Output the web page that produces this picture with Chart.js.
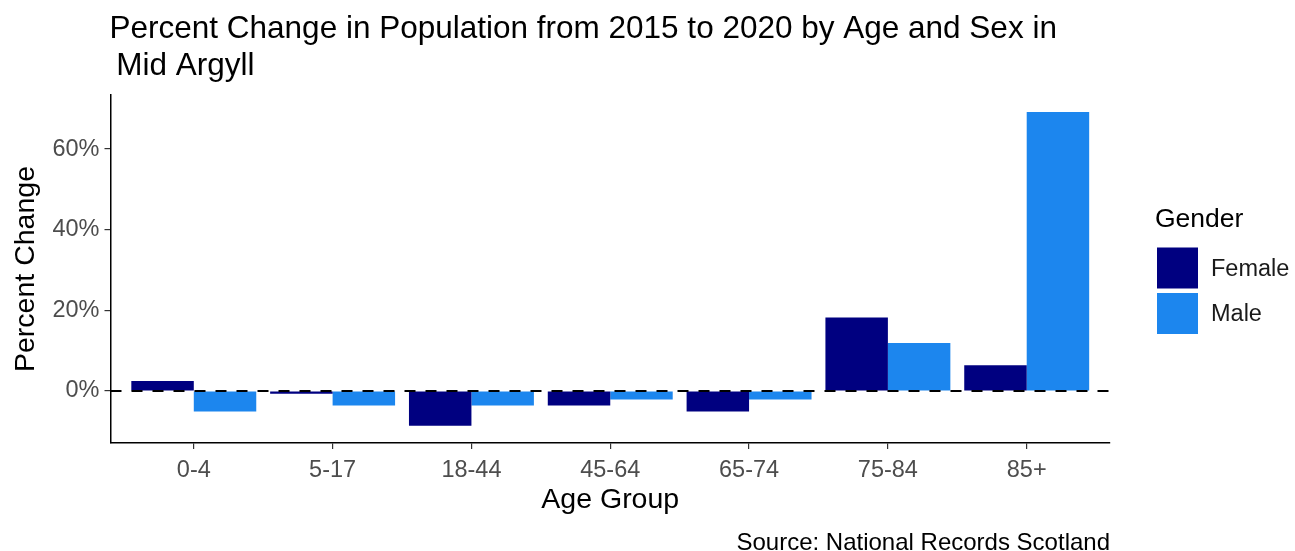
<!DOCTYPE html>
<html>
<head>
<meta charset="utf-8">
<script src="https://cdn.jsdelivr.net/npm/chart.js@4/dist/chart.umd.min.js"></script>
<style>
  body { margin: 0; background: #fff; }
  #wrap { width: 1295px; height: 551px; }
</style>
</head>
<body>
<div id="wrap"><canvas id="myChart" width="1295" height="551"></canvas></div>
<script>
// values (percent change 2015 -> 2020)
var ageGroups = ['0-4', '5-17', '18-44', '45-64', '65-74', '75-84', '85+'];
var femaleChange = [2.5, -0.7, -8.6, -3.6, -5.1, 18.2, 6.4];
var maleChange = [-5.1, -3.6, -3.6, -2.1, -2.1, 11.9, 69.2];
var yTicks = [0, 20, 40, 60];

var titleLines = ['Percent Change in Population from 2015 to 2020 by Age and Sex in', ' Mid Argyll'];
var sourceText = 'Source: National Records Scotland';
var legendTitle = 'Gender';

var fontName = '"Liberation Sans", Arial, sans-serif';

function toPoints(vals) {
    var pts = [];
    for (var i = 0; i < vals.length; i++) {
        pts.push({x: i, y: vals[i]});
    }
    return pts;
}

// title, dashed zero line, caption and legend drawn on the canvas
var extras = {
    id: 'extras',
    afterDatasetsDraw: function(chart) {
        var ctx = chart.ctx;
        var area = chart.chartArea;
        var y0 = chart.scales.y.getPixelForValue(0);
        ctx.save();
        ctx.strokeStyle = '#000';
        ctx.lineWidth = 2;
        ctx.setLineDash([11, 10]);
        ctx.beginPath();
        ctx.moveTo(area.left, y0);
        ctx.lineTo(area.right, y0);
        ctx.stroke();
        ctx.restore();
    },
    afterDraw: function(chart) {
        var ctx = chart.ctx;
        var area = chart.chartArea;
        ctx.save();
        ctx.fillStyle = '#000';
        ctx.textBaseline = 'alphabetic';
        ctx.textAlign = 'left';
        ctx.font = '31.5px ' + fontName;
        ctx.fillText(titleLines[0], 109.5, 38);
        ctx.fillText(titleLines[1], 107.5, 75);

        ctx.textAlign = 'right';
        ctx.font = '24px ' + fontName;
        ctx.fillText(sourceText, area.right, 550);

        // legend
        ctx.textAlign = 'left';
        ctx.font = '26.5px ' + fontName;
        ctx.fillText(legendTitle, 1155, 227);
        ctx.font = '23.5px ' + fontName;
        ctx.textBaseline = 'middle';
        var ds = chart.data.datasets;
        for (var i = 0; i < ds.length; i++) {
            var top = 247.5 + i * 45.5;
            ctx.fillStyle = ds[i].backgroundColor;
            ctx.fillRect(1157, top, 41, 41);
            ctx.fillStyle = '#1a1a1a';
            ctx.fillText(ds[i].label, 1211, top + 22);
        }
        ctx.restore();
    }
};

var ctx = document.getElementById('myChart').getContext('2d');
var chart = new Chart(ctx, {
    type: 'bar',
    data: {
        datasets: [{
            label: 'Female',
            backgroundColor: '#000080',
            data: toPoints(femaleChange)
        }, {
            label: 'Male',
            backgroundColor: '#1C86EE',
            data: toPoints(maleChange)
        }]
    },
    options: {
        responsive: false,
        animation: false,
        layout: {padding: {top: 95, right: 185, bottom: 32, left: 0}},
        datasets: {bar: {categoryPercentage: 0.9, barPercentage: 1.0}},
        plugins: {
            legend: {display: false},
            tooltip: {enabled: false}
        },
        scales: {
            x: {
                type: 'linear',
                offset: false,
                min: -0.6,
                max: 6.6,
                afterBuildTicks: function(s) {
                    s.ticks = ageGroups.map(function(a, i) { return {value: i}; });
                },
                afterFit: function(s) { s.height = 76; },
                grid: {display: true, offset: false, drawOnChartArea: false, drawTicks: true, tickLength: 6, color: '#333', lineWidth: 1.2},
                border: {display: true, color: '#000', width: 1.5},
                ticks: {
                    color: '#4d4d4d',
                    font: {family: fontName, size: 23.5},
                    padding: 7,
                    maxRotation: 0,
                    autoSkip: false,
                    callback: function(v) { return ageGroups[v]; }
                },
                title: {
                    display: true,
                    text: 'Age Group',
                    color: '#000',
                    font: {family: fontName, size: 28.5},
                    padding: {top: 0, bottom: 2}
                }
            },
            y: {
                min: -12.9,
                max: 73.4,
                afterBuildTicks: function(s) {
                    s.ticks = yTicks.map(function(v) { return {value: v}; });
                },
                afterFit: function(s) { s.width = 110.5; },
                grid: {display: true, drawOnChartArea: false, drawTicks: true, tickLength: 6, color: '#333', lineWidth: 1.2},
                border: {display: true, color: '#000', width: 1.5},
                ticks: {
                    color: '#4d4d4d',
                    font: {family: fontName, size: 23.5},
                    padding: 5,
                    callback: function(v) { return v + '%'; }
                },
                title: {
                    display: true,
                    text: 'Percent Change',
                    color: '#000',
                    font: {family: fontName, size: 28.5},
                    padding: {top: 9, bottom: 0}
                }
            }
        }
    },
    plugins: [extras]
});
</script>
</body>
</html>
